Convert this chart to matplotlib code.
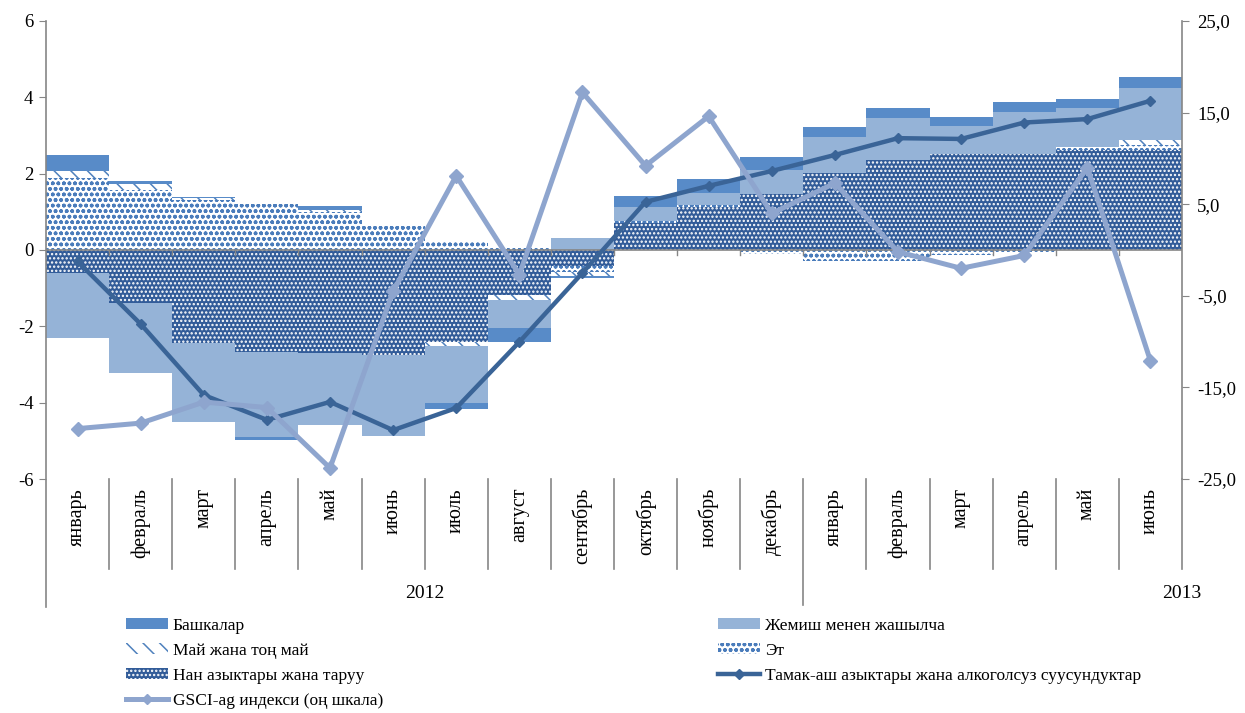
import matplotlib
matplotlib.use('Agg')
import matplotlib.pyplot as plt
import numpy as np
from matplotlib.transforms import blended_transform_factory
from matplotlib.ticker import FuncFormatter, FixedLocator
from matplotlib.lines import Line2D
from matplotlib.patches import Patch

plt.rcParams['font.family'] = ['Liberation Serif', 'DejaVu Serif']
plt.rcParams['axes.unicode_minus'] = False
plt.rcParams['hatch.linewidth'] = 1.1

months = ['январь', 'февраль', 'март', 'апрель', 'май', 'июнь', 'июль', 'август',
          'сентябрь', 'октябрь', 'ноябрь', 'декабрь',
          'январь', 'февраль', 'март', 'апрель', 'май', 'июнь']
years = ['2012', '2013']
year_counts = [12, 6]

bread = [-0.60, -1.39, -2.44, -2.67, -2.70, -2.75, -2.42, -1.18, -0.42,
         0.72, 1.13, 1.47, 2.02, 2.37, 2.51, 2.51, 2.62, 2.62]
meat = [1.88, 1.57, 1.30, 1.20, 1.00, 0.63, 0.20, 0.06, -0.15,
        0.05, 0.05, -0.10, -0.30, -0.30, -0.13, -0.05, 0.08, 0.12]
oil = [0.20, 0.16, 0.05, 0.00, 0.05, 0.00, -0.10, -0.13, -0.12,
       0.00, 0.00, 0.00, 0.00, 0.00, 0.00, 0.00, 0.00, 0.14]
fruit = [-1.70, -1.83, -2.06, -2.23, -1.88, -2.12, -1.50, -0.73, 0.31,
         0.36, 0.31, 0.63, 0.94, 1.09, 0.74, 1.11, 1.02, 1.36]
others = [0.40, 0.08, 0.05, -0.08, 0.10, 0.00, -0.15, -0.37, -0.05,
          0.28, 0.37, 0.34, 0.26, 0.26, 0.23, 0.26, 0.24, 0.29]

food = [-0.30, -1.94, -3.80, -4.45, -3.98, -4.72, -4.14, -2.41, -0.60,
        1.26, 1.68, 2.07, 2.49, 2.93, 2.91, 3.34, 3.43, 3.91]
gsci = [-19.5, -18.9, -16.6, -17.2, -23.8, -4.5, 8.1, -2.7, 17.2,
        9.2, 14.6, 4.0, 7.3, -0.2, -2.0, -0.6, 9.0, -12.1]

names = {
    'others': 'Башкалар',
    'fruit': 'Жемиш менен жашылча',
    'oil': 'Май жана тоң май',
    'meat': 'Эт',
    'bread': 'Нан азыктары жана таруу',
    'food': 'Тамак-аш азыктары жана алкоголсуз суусундуктар',
    'gsci': 'GSCI-ag индекси (оң шкала)',
}

W, H = 1245, 713
fig = plt.figure(figsize=(W / 100, H / 100), dpi=100)
L, R, T, B = 46, 1182, 21, 479
ax = fig.add_axes([L / W, (H - B) / H, (R - L) / W, (B - T) / H])
axh = B - T

x = np.arange(len(months))
grey = '#868686'

styles = {
    'bread': dict(facecolor='#325c99', edgecolor='white', hatch='....'),
    'meat': dict(facecolor='white', edgecolor='#4a7cbb', hatch='ooo'),
    'oil': dict(facecolor='white', edgecolor='#4f81bd', hatch='\\\\'),
    'fruit': dict(facecolor='#95b3d7', edgecolor='#95b3d7', hatch=None),
    'others': dict(facecolor='#588bc8', edgecolor='#588bc8', hatch=None),
}
series = [('bread', bread), ('meat', meat), ('oil', oil), ('fruit', fruit), ('others', others)]

pos = np.zeros(len(x))
neg = np.zeros(len(x))
for key, vals in series:
    v = np.array(vals)
    bottom = np.where(v >= 0, pos, neg)
    st = styles[key]
    ax.bar(x, v, width=1.0, bottom=bottom, facecolor=st['facecolor'],
           edgecolor=st['edgecolor'], hatch=st['hatch'], linewidth=0, zorder=2)
    pos = pos + np.where(v >= 0, v, 0)
    neg = neg + np.where(v < 0, v, 0)

food_c = '#3a6497'
gsci_c = '#8ea5ce'
ax.plot(x, food, color=food_c, lw=3.2, marker='D', ms=5.5, zorder=5)

ax.set_xlim(-0.5, len(months) - 0.5)
ax.set_ylim(-6, 6)
ax.set_yticks(np.arange(-6, 7, 2))
for s in ['top', 'right', 'bottom', 'left']:
    ax.spines[s].set_visible(False)
ax.tick_params(axis='y', direction='out', length=5, color=grey, labelsize=13.5, pad=4)
ax.tick_params(axis='x', bottom=False, labelbottom=False)

# zero category axis line with boundary ticks
ax.axhline(0, color=grey, lw=1.2, zorder=3)
bt = blended_transform_factory(ax.transData, ax.transAxes)
bounds = np.arange(len(months) + 1) - 0.5
for b in bounds[1:-1]:
    ax.plot([b, b], [0, -0.13], color=grey, lw=1, zorder=3)

# left spine extended
ax.plot([0, 0], [1, -(607 - B) / axh], transform=ax.transAxes, color=grey, lw=1.2, clip_on=False)
# separators
ends = set()
start = 0
for cnt in year_counts:
    start += cnt
    ends.add(start)
for i, b in enumerate(bounds[1:], start=1):
    low = 605 if (i in ends and i != len(months)) else 569
    ax.plot([b, b], [0, -(low - B) / axh], transform=bt, color=grey, lw=1.2, clip_on=False)

for i, m in enumerate(months):
    ax.text(i, -(488 - B) / axh, m, rotation=90, ha='center', va='top',
            transform=bt, fontsize=14.5)

start = 0
for yname, cnt in zip(years, year_counts):
    if start == 0:
        xc = start - 0.5 + cnt / 2
    else:
        xc = start - 0.5 + cnt
    ax.text(xc, -(594 - B) / axh, yname, ha='center', va='center', transform=bt, fontsize=14)
    start += cnt

ax2 = ax.twinx()
ax2.set_position(ax.get_position())
ax2.set_ylim(-25, 25)
ax2.yaxis.set_major_locator(FixedLocator(np.arange(-25, 26, 10)))
ax2.yaxis.set_major_formatter(FuncFormatter(lambda v, p: ('%.1f' % v).replace('.', ',')))
for s in ['top', 'left', 'bottom']:
    ax2.spines[s].set_visible(False)
ax2.spines['right'].set_color(grey)
ax2.spines['right'].set_linewidth(1.2)
ax2.tick_params(axis='y', direction='out', length=5, color=grey, labelsize=13.5, pad=6)
ax2.plot(x, gsci, color=gsci_c, lw=3.6, marker='D', ms=7.5, zorder=6)

# legends
def h(key):
    st = styles[key]
    return Patch(facecolor=st['facecolor'], edgecolor=st['edgecolor'], hatch=st['hatch'], linewidth=0)

left_handles = [h('others'), h('oil'), h('bread'),
                Line2D([], [], color=gsci_c, lw=3.6, marker='D', ms=5)]
left_labels = [names['others'], names['oil'], names['bread'], names['gsci']]
right_handles = [h('fruit'), h('meat'),
                 Line2D([], [], color=food_c, lw=3.2, marker='D', ms=5)]
right_labels = [names['fruit'], names['meat'], names['food']]

kw = dict(frameon=False, fontsize=12.5, handlelength=2.4, handleheight=0.6,
          handletextpad=0.3, labelspacing=0.52, borderpad=0, borderaxespad=0,
          loc='upper left')
leg1 = fig.legend(left_handles, left_labels, bbox_to_anchor=(126 / W, 1 - 618 / H), **kw)
leg2 = fig.legend(right_handles, right_labels, bbox_to_anchor=(718 / W, 1 - 618 / H), **kw)

fig.savefig('out.png', dpi=100)
